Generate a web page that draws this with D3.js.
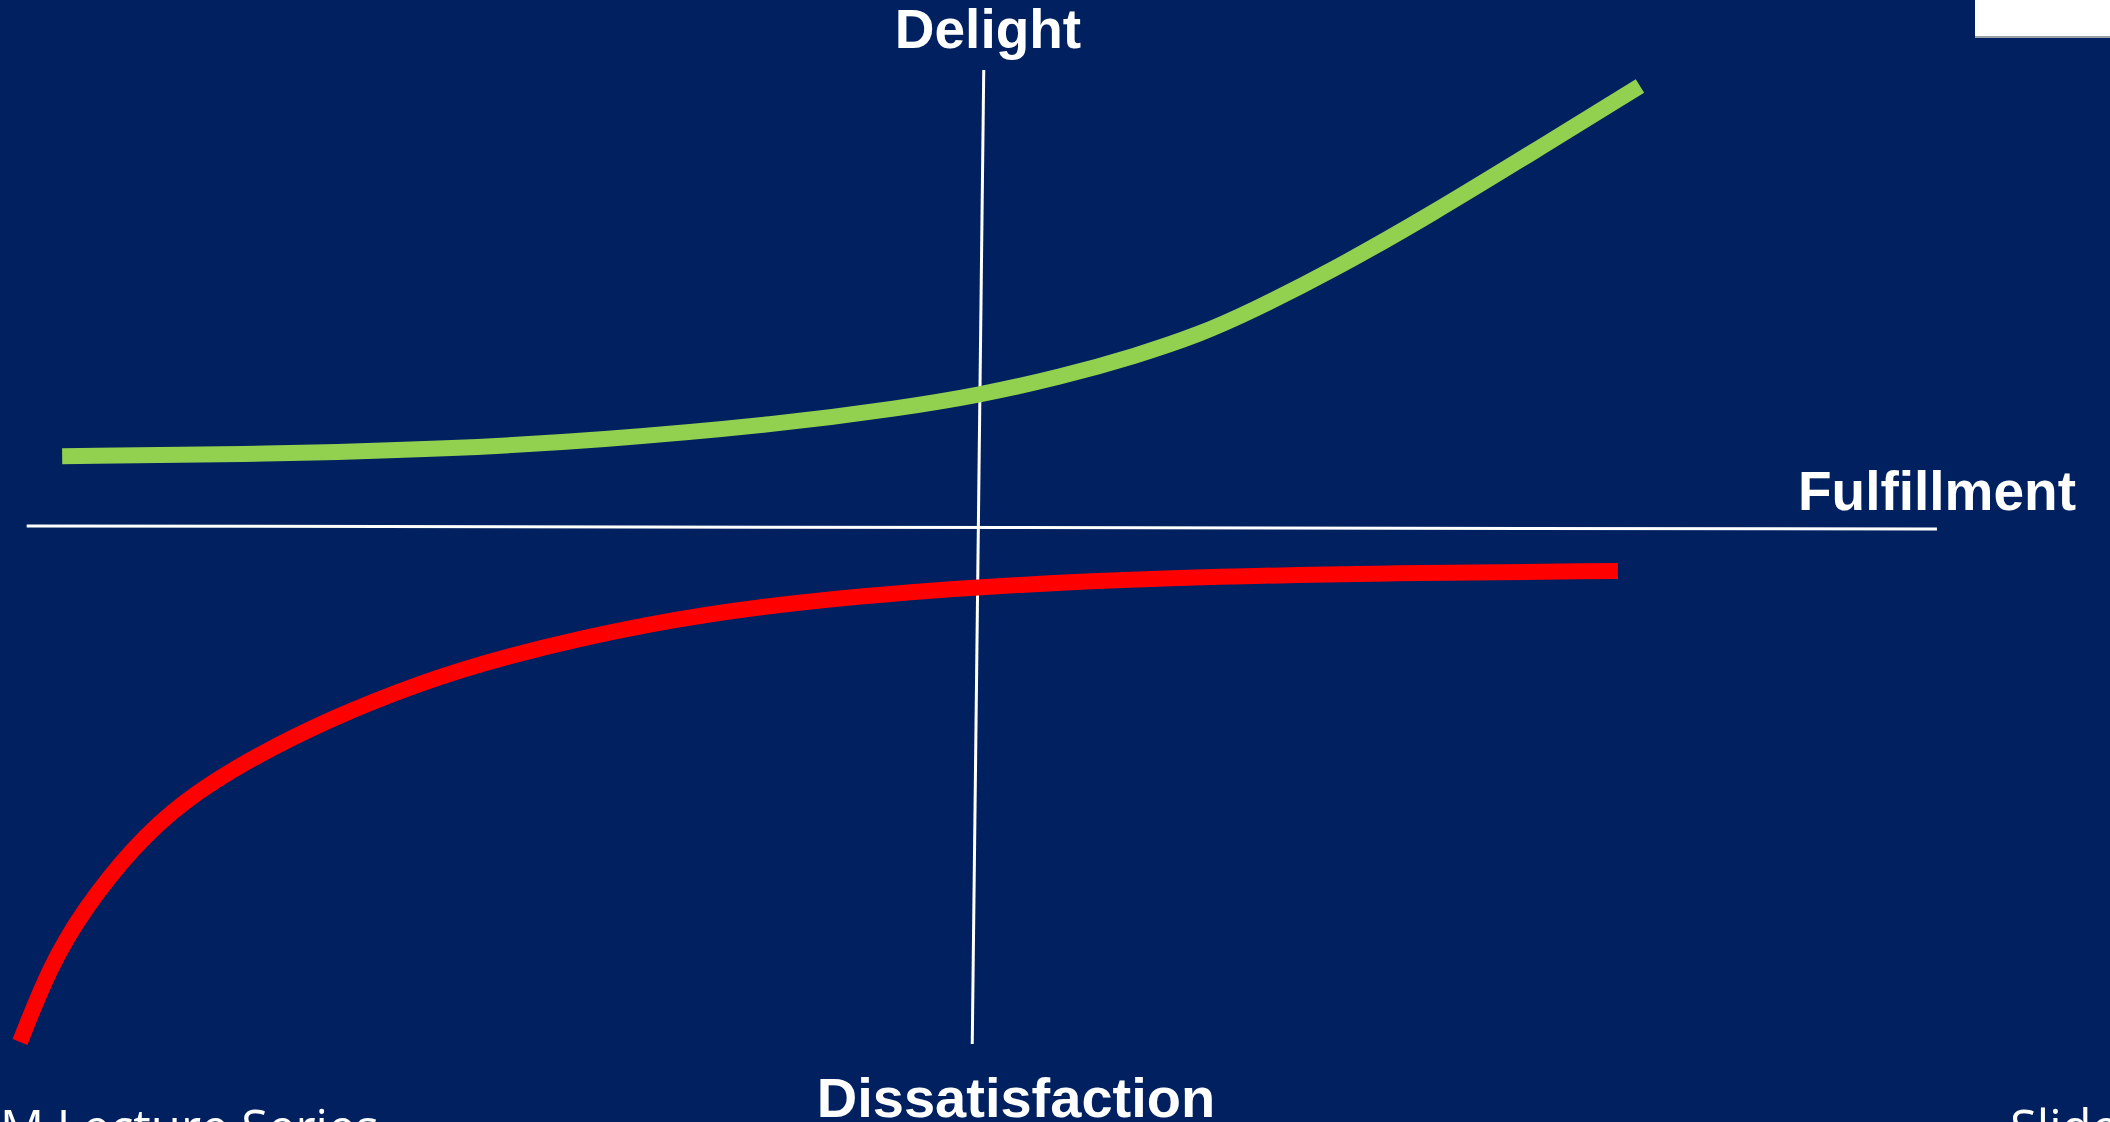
<!DOCTYPE html>
<html>
<head>
<meta charset="utf-8">
<script src="https://cdn.jsdelivr.net/npm/d3@7"></script>
<style>
  html, body { margin: 0; padding: 0; background: #002060; overflow: hidden; }
  svg { display: block; }
</style>
</head>
<body>
<svg></svg>
<script>
// fulfillment on x, satisfaction on y (-100..100)
const delighterX = [-95.6, -73.9, -55.1, -39.5, -20.7, -8.1, 0.1, 8.6, 16.5, 23.2, 28.4, 37.1, 47.5, 57.9, 69.1];
const delighterY = [13.7, 14.1, 15.1, 16.8, 19.9, 23.0, 25.5, 29.0, 33.1, 37.3, 41.6, 49.7, 60.7, 72.5, 85.3];

const basicX = [-100, -96.9, -93.4, -88.2, -83.0, -76.0, -67.3, -58.6, -49.9, -34.4, -19.0, -0.1, 19.6, 42.8, 66.8];
const basicY = [-99.6, -85.1, -74.1, -61.9, -53.0, -44.8, -36.8, -30.4, -25.2, -18.5, -14.4, -11.5, -9.8, -8.9, -8.5];

// axis end points (slightly tilted as drawn on the slide)
const hAxis = [[-99.3, 0.2], [100.1, -0.4]];
const vAxis = [[0.6, 88.4], [-0.6, -100]];

const W = 2110, H = 1122;
const svg = d3.select("svg").attr("width", W).attr("height", H);

svg.append("rect").attr("width", W).attr("height", H).attr("fill", "#002060");

const x = d3.scaleLinear().domain([-100, 100]).range([20, 1936]);
const y = d3.scaleLinear().domain([-100, 100]).range([1044, 10]);

const line = d3.line()
  .x(d => x(d[0]))
  .y(d => y(d[1]))
  .curve(d3.curveBasis);

const straight = d3.line().x(d => x(d[0])).y(d => y(d[1]));

// axes
svg.append("path").attr("d", straight(hAxis))
  .attr("stroke", "white").attr("stroke-width", 3).attr("fill", "none");
svg.append("path").attr("d", straight(vAxis))
  .attr("stroke", "white").attr("stroke-width", 3).attr("fill", "none");

// curves
svg.append("path").attr("d", line(d3.zip(delighterX, delighterY)))
  .attr("stroke", "#92D050").attr("stroke-width", 16).attr("fill", "none");
svg.append("path").attr("d", line(d3.zip(basicX, basicY)))
  .attr("stroke", "#FF0000").attr("stroke-width", 16).attr("fill", "none");

// labels
const bold = "'Liberation Sans', Arial, sans-serif";
svg.append("text").text("Delight").attr("x", 988).attr("y", 48)
  .attr("text-anchor", "middle").attr("font-family", bold).attr("font-weight", "bold")
  .attr("font-size", 55).attr("fill", "white");
svg.append("text").text("Fulfillment").attr("x", 1937).attr("y", 510)
  .attr("text-anchor", "middle").attr("font-family", bold).attr("font-weight", "bold")
  .attr("font-size", 55).attr("fill", "white");
svg.append("text").text("Dissatisfaction").attr("x", 1016).attr("y", 1117)
  .attr("text-anchor", "middle").attr("font-family", bold).attr("font-weight", "bold")
  .attr("font-size", 56).attr("fill", "white");

// slide footer bits, cut off by the frame
svg.append("text").text("M Lecture Series").attr("x", 0).attr("y", 1145)
  .attr("font-family", "'Open Sans', sans-serif").attr("font-size", 49).attr("fill", "white");
svg.append("text").text("Slide").attr("x", 2010).attr("y", 1145)
  .attr("font-family", "'Open Sans', sans-serif").attr("font-size", 49).attr("fill", "white");

// white box top right
svg.append("rect").attr("x", 1975).attr("y", 0).attr("width", 135).attr("height", 38).attr("fill", "#9aa0a8");
svg.append("rect").attr("x", 1975).attr("y", 0).attr("width", 135).attr("height", 36).attr("fill", "white");
</script>
</body>
</html>
